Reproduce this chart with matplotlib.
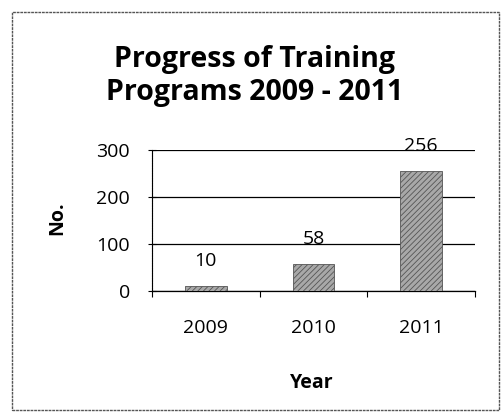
import matplotlib.pyplot as plt
from matplotlib.patches import Rectangle

years = ["2009", "2010", "2011"]
counts = [10, 58, 256]
yticks = [0, 100, 200, 300]

plt.rcParams['font.family'] = ['Open Sans', 'DejaVu Sans']
plt.rcParams['hatch.linewidth'] = 0.6
plt.rcParams['hatch.color'] = '#6a6a6a'

fig = plt.figure(figsize=(5.01, 4.19), dpi=100)
fig.patches.append(Rectangle((12/501, 9/419), 487/501, 398/419, transform=fig.transFigure,
                             fill=False, edgecolor='#555555', lw=1.0, linestyle=(0, (2, 0.6))))

ax = fig.add_axes([152/501, 1 - 291/419, 323/501, 141/419])
x = range(len(years))
ax.bar(x, counts, width=0.39, color='#a8a8a8', edgecolor='#555555', hatch='//////', lw=0.6, zorder=3)
for i, v in enumerate(counts):
    ax.annotate(str(v), (i, v), xytext=(0, 18), textcoords='offset points',
                ha='center', va='center', fontsize=14, zorder=4)

ax.set_xlim(-0.5, 2.5)
ax.set_ylim(0, 300)
ax.set_yticks(yticks)
ax.set_xticks(list(x))
ax.set_xticklabels(years)
ax.set_xticks([-0.5, 0.5, 1.5, 2.5], minor=True)
ax.tick_params(axis='x', which='major', length=0, pad=20, labelsize=14)
ax.tick_params(axis='x', which='minor', length=4, width=0.8, direction='out')
ax.tick_params(axis='y', length=6, width=0.8, direction='inout', pad=13, labelsize=14)
ax.yaxis.grid(True, color='black', lw=0.9, zorder=0)
for s in ['top', 'right']:
    ax.spines[s].set_visible(False)
ax.spines['left'].set_linewidth(0.8)
ax.spines['left'].set_linestyle((0, (1, 0.5)))
ax.spines['bottom'].set_linewidth(0.9)

ax.set_xlabel("Year", fontweight='bold', fontsize=14)
ax.set_ylabel("No.", fontweight='bold', fontsize=14)
ax.xaxis.set_label_coords((312 - 152) / 323, -(383 - 291) / 141)
ax.xaxis.label.set_va('center')
ax.yaxis.set_label_coords(-(152 - 57) / 323, (291 - 218) / 141)
ax.yaxis.label.set_va('center')
fig.text(255/501, 1 - 76/419, "Progress of Training\nPrograms 2009 - 2011", ha='center', va='center',
         fontsize=20.5, fontweight='bold', linespacing=1.2)

fig.savefig("out.png", dpi=100)
